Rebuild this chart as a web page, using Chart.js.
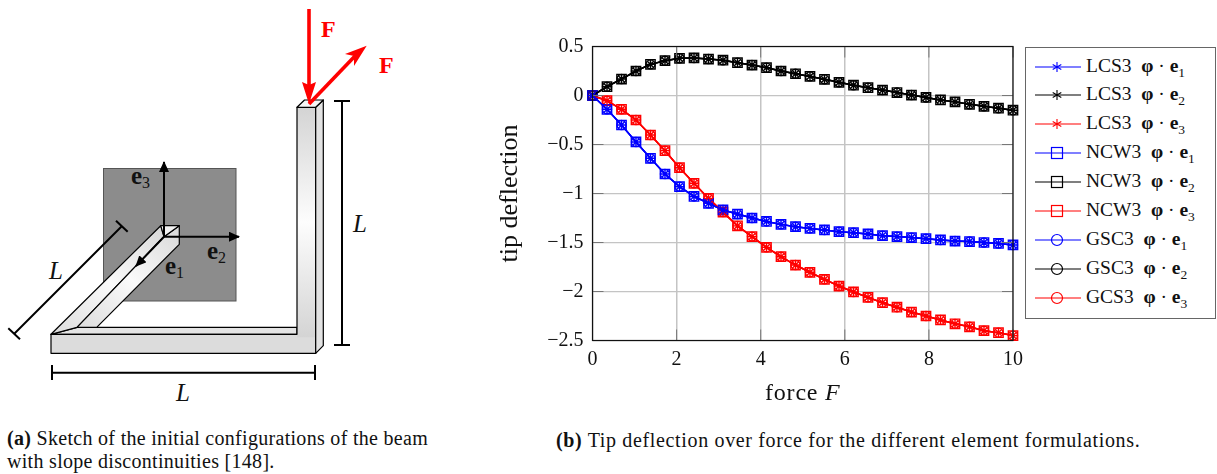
<!DOCTYPE html>
<html>
<head>
<meta charset="utf-8">
<title>Tip deflection</title>
<script src="https://cdn.jsdelivr.net/npm/chart.js@4"></script>
<style>
  html, body { margin: 0; padding: 0; background: #fff; }
  body { position: relative; width: 1217px; height: 474px; overflow: hidden; font-family: "Liberation Serif", serif; color: #111; }
  #wrap { position: absolute; left: 480px; top: 0; width: 560px; height: 420px; }
  #sketch { position: absolute; left: 0; top: 0; }
  .cap { position: absolute; font-size: 20px; line-height: 23px; white-space: nowrap; }
  #xtitle { position: absolute; left: 765px; top: 379px; font-size: 24px; letter-spacing: 0.8px; }
  #legend { position: absolute; left: 1025px; top: 47px; width: 189px; height: 270px; border: 1.3px solid #666; box-sizing: content-box; background: #fff; }
  .row { position: absolute; left: 0; height: 20px; white-space: nowrap; font-size: 19.5px; line-height: 20px; }
  .row svg { position: absolute; left: 8px; top: 0; }
  .row span { position: absolute; left: 60px; top: -1px; }
  sub { font-size: 13.5px; line-height: 0; }
</style>
</head>
<body>

<svg id="sketch" width="420" height="420" xmlns="http://www.w3.org/2000/svg" font-family="Liberation Serif">
  <defs>
    <linearGradient id="gv" x1="0" y1="0" x2="0" y2="1">
      <stop offset="0" stop-color="#d4d4d4"/><stop offset="0.5" stop-color="#fdfdfd"/><stop offset="1" stop-color="#d4d4d4"/>
    </linearGradient>
    <linearGradient id="gd" x1="0" y1="1" x2="1" y2="0">
      <stop offset="0" stop-color="#dcdcdc"/><stop offset="0.5" stop-color="#fafafa"/><stop offset="1" stop-color="#d8d8d8"/>
    </linearGradient>
    <marker id="ah" markerWidth="12" markerHeight="10" refX="10" refY="5" orient="auto" markerUnits="userSpaceOnUse">
      <path d="M0,0 L11,5 L0,10 Z" fill="#000"/>
    </marker>
  </defs>
  <rect x="103.5" y="168.5" width="132.5" height="132.5" fill="#8c8c8c" stroke="#555" stroke-width="1"/>
  <g stroke="#000" stroke-width="1.2" stroke-linejoin="round">
    <polygon points="77,327.3 297,327.3 297,334.3 51,334.3" fill="#e4e4e4"/>
    <polygon points="51,334.3 160.7,225.7 164,236.7 77,327.3" fill="url(#gd)"/>
    <polygon points="164,236.7 179.3,225.7 179.3,244.3 96.7,327.3 77,327.3" fill="url(#gd)"/>
    <polygon points="160.7,225.7 179.3,225.7 164,236.7" fill="#f2f2f2"/>
    <polygon points="51,334.3 297,334.3 297,107.3 315.7,107.3 315.7,353.3 51,353.3" fill="#dcdcdc" stroke="none"/>
    <rect x="297" y="107.3" width="18.7" height="230" fill="url(#gv)" stroke="none"/>
    <polygon points="51,334.3 297,334.3 297,107.3 315.7,107.3 315.7,353.3 51,353.3" fill="none"/>
    <polygon points="315.7,107.3 323.3,100 323.3,345.7 315.7,353.3" fill="#e2e2e2"/>
    <polygon points="297,107.3 304.5,100 323.3,100 315.7,107.3" fill="#f6f6f6"/>
  </g>
  <g stroke="#000" stroke-width="2" fill="none">
    <line x1="164" y1="236.7" x2="164" y2="162" marker-end="url(#ah)"/>
    <line x1="164" y1="236.7" x2="239" y2="236.7" marker-end="url(#ah)"/>
    <line x1="164" y1="236.7" x2="136" y2="266" marker-end="url(#ah)"/>
    <line x1="14" y1="334" x2="122" y2="226"/>
    <line x1="8.3" y1="328.3" x2="20" y2="339.3"/>
    <line x1="116" y1="220.7" x2="127.7" y2="231.7"/>
    <line x1="52" y1="372.7" x2="315" y2="372.7"/>
    <line x1="52" y1="365" x2="52" y2="380"/>
    <line x1="315" y1="365" x2="315" y2="380"/>
    <line x1="342" y1="101" x2="342" y2="345"/>
    <line x1="334" y1="101" x2="350" y2="101"/>
    <line x1="334" y1="345" x2="350" y2="345"/>
  </g>
  <g stroke="#f00" fill="#f00">
    <line x1="309" y1="9" x2="309" y2="90" stroke-width="3.6"/>
    <path d="M309,104 L302,82 L309,85 L316,82 Z" stroke="none"/>
    <line x1="309" y1="104" x2="355" y2="56" stroke-width="3.6"/>
    <path d="M366.7,45.7 L354,66 L354,56 L345,54 Z" stroke="none"/>
  </g>
  <g fill="#111">
    <text x="131" y="184" font-weight="bold" font-size="25">e<tspan font-size="16" font-weight="normal" dy="4">3</tspan></text>
    <text x="207" y="259" font-weight="bold" font-size="25">e<tspan font-size="16" font-weight="normal" dy="4">2</tspan></text>
    <text x="165" y="274" font-weight="bold" font-size="25">e<tspan font-size="16" font-weight="normal" dy="4">1</tspan></text>
    <text x="49" y="279" font-style="italic" font-size="25">L</text>
    <text x="176" y="401" font-style="italic" font-size="25">L</text>
    <text x="353" y="232" font-style="italic" font-size="25">L</text>
  </g>
  <g font-size="24" font-weight="bold" fill="#f00">
    <text x="321" y="37">F</text>
    <text x="379" y="73">F</text>
  </g>
</svg>

<div id="wrap"><canvas id="chart" width="560" height="420"></canvas></div>
<div id="xtitle">force <i>F</i></div>
<div id="legend"></div>

<div class="cap" style="left:7px;top:427px;letter-spacing:0.3px"><b>(a)</b> Sketch of the initial configurations of the beam<br>with slope discontinuities [148].</div>
<div class="cap" style="left:556px;top:429px;letter-spacing:0.65px"><b>(b)</b> Tip deflection over force for the different element formulations.</div>

<script>
const forceValues = [0, 0.345, 0.69, 1.034, 1.379, 1.724, 2.069, 2.414, 2.759, 3.103,
  3.448, 3.793, 4.138, 4.483, 4.828, 5.172, 5.517, 5.862, 6.207, 6.552,
  6.897, 7.241, 7.586, 7.931, 8.276, 8.621, 8.966, 9.31, 9.655, 10];

const tipE1 = [0, -0.141, -0.301, -0.474, -0.641, -0.801, -0.93, -1.03, -1.10, -1.168,
  -1.21, -1.25, -1.285, -1.315, -1.339, -1.356, -1.372, -1.39, -1.40, -1.413,
  -1.43, -1.44, -1.45, -1.461, -1.474, -1.485, -1.49, -1.50, -1.51, -1.525];
const tipE2 = [0, 0.09, 0.168, 0.25, 0.318, 0.355, 0.38, 0.383, 0.372, 0.36,
  0.335, 0.311, 0.284, 0.25, 0.222, 0.195, 0.165, 0.135, 0.105, 0.08,
  0.055, 0.03, 0.005, -0.02, -0.045, -0.065, -0.09, -0.11, -0.13, -0.15];
const tipE3 = [0, -0.053, -0.141, -0.25, -0.403, -0.563, -0.737, -0.896, -1.05, -1.19,
  -1.33, -1.44, -1.55, -1.645, -1.73, -1.804, -1.876, -1.944, -2.005, -2.06,
  -2.114, -2.16, -2.21, -2.25, -2.29, -2.33, -2.36, -2.40, -2.42, -2.45];

const formulations = ["LCS3", "NCW3", "GSC3"];
const lastLabelName = "GCS3"; // spelled this way in the figure
const components = [
  { idx: 1, color: "#0000ff", values: tipE1 },
  { idx: 2, color: "#000000", values: tipE2 },
  { idx: 3, color: "#ff0000", values: tipE3 },
];
const pointStyles = { LCS3: "star", NCW3: "rect", GSC3: "circle" };
const pointRadii = { LCS3: 4.5, NCW3: 6.6, GSC3: 4.5 };

const datasets = [];
formulations.forEach((f) => {
  components.forEach((c) => {
    datasets.push({
      label: f + " e" + c.idx,
      data: c.values.map((v, i) => ({ x: forceValues[i], y: v })),
      borderColor: c.color,
      backgroundColor: "transparent",
      borderWidth: 1.5,
      pointStyle: pointStyles[f],
      pointRadius: pointRadii[f],
      pointBorderWidth: 1.4,
      pointBorderColor: c.color,
      pointBackgroundColor: "transparent",
      tension: 0,
      clip: false,
    });
  });
});

// pgfplots style frame and inward ticks
const frameTicks = {
  id: "frameTicks",
  afterDatasetsDraw(chart) {
    const { ctx, chartArea: a, scales } = chart;
    ctx.save();
    ctx.strokeStyle = "#777";
    ctx.lineWidth = 1;
    ctx.beginPath();
    scales.x.ticks.forEach((t) => {
      const px = scales.x.getPixelForValue(t.value);
      ctx.moveTo(px, a.top); ctx.lineTo(px, a.top + 11);
      ctx.moveTo(px, a.bottom); ctx.lineTo(px, a.bottom - 11);
    });
    scales.y.ticks.forEach((t) => {
      const py = scales.y.getPixelForValue(t.value);
      ctx.moveTo(a.left, py); ctx.lineTo(a.left + 11, py);
      ctx.moveTo(a.right, py); ctx.lineTo(a.right - 11, py);
    });
    ctx.stroke();
    ctx.strokeStyle = "#111";
    ctx.lineWidth = 1.2;
    ctx.strokeRect(a.left, a.top, a.right - a.left, a.bottom - a.top);
    ctx.restore();
  },
};

Chart.defaults.font.family = "'Liberation Serif', serif";
Chart.defaults.color = "#111";

new Chart(document.getElementById("chart").getContext("2d"), {
  type: "line",
  data: { datasets },
  plugins: [frameTicks],
  options: {
    responsive: false,
    animation: false,
    layout: { padding: { top: 46.5, right: 27, bottom: 0, left: 0 } },
    plugins: { legend: { display: false }, tooltip: { enabled: false } },
    scales: {
      x: {
        type: "linear",
        min: 0,
        max: 10,
        afterFit(s) { s.height = 79.5; },
        ticks: { stepSize: 2, font: { size: 20 }, maxRotation: 0, padding: 7 },
        grid: { color: "#c4c4c4", lineWidth: 1.5, drawTicks: false },
        border: { display: false },
      },
      y: {
        min: -2.5,
        max: 0.5,
        afterFit(s) { s.width = 112.5; },
        ticks: {
          stepSize: 0.5,
          font: { size: 20 },
          padding: 9,
          callback: (v) => String(v).replace("-", "\u2212"),
        },
        grid: { color: "#c4c4c4", lineWidth: 1.2, drawTicks: false },
        border: { display: false },
        title: { display: true, text: "tip deflection", font: { size: 26 }, padding: { top: 15, bottom: 0 } },
      },
    },
  },
});

// legend: same order and marks as the datasets, with the formula typeset as html
const legendEl = document.getElementById("legend");
const markSvg = {
  LCS3: (c) => `<path d="M23,5 V15 M18.7,7.5 L27.3,12.5 M18.7,12.5 L27.3,7.5" stroke="${c}" stroke-width="1.1" fill="none"/>`,
  NCW3: (c) => `<rect x="17.5" y="4.5" width="11" height="11" stroke="${c}" stroke-width="1.2" fill="none"/>`,
  GSC3: (c) => `<circle cx="23" cy="10" r="5.5" stroke="${c}" stroke-width="1.2" fill="none"/>`,
};
let rowIndex = 0;
formulations.forEach((f) => {
  components.forEach((c) => {
    const name = f === "GSC3" && c.idx === 3 ? lastLabelName : f;
    const row = document.createElement("div");
    row.className = "row";
    row.style.top = 8.5 + rowIndex * 28.9 + "px";
    row.innerHTML =
      `<svg width="50" height="20"><line x1="1" y1="10" x2="47" y2="10" stroke="${c.color}" stroke-width="1.1"/>${markSvg[f](c.color)}</svg>` +
      `<span>${name} &nbsp;<b>\u03c6</b> \u00b7 <b>e</b><sub>${c.idx}</sub></span>`;
    legendEl.appendChild(row);
    rowIndex++;
  });
});
</script>
</body>
</html>
